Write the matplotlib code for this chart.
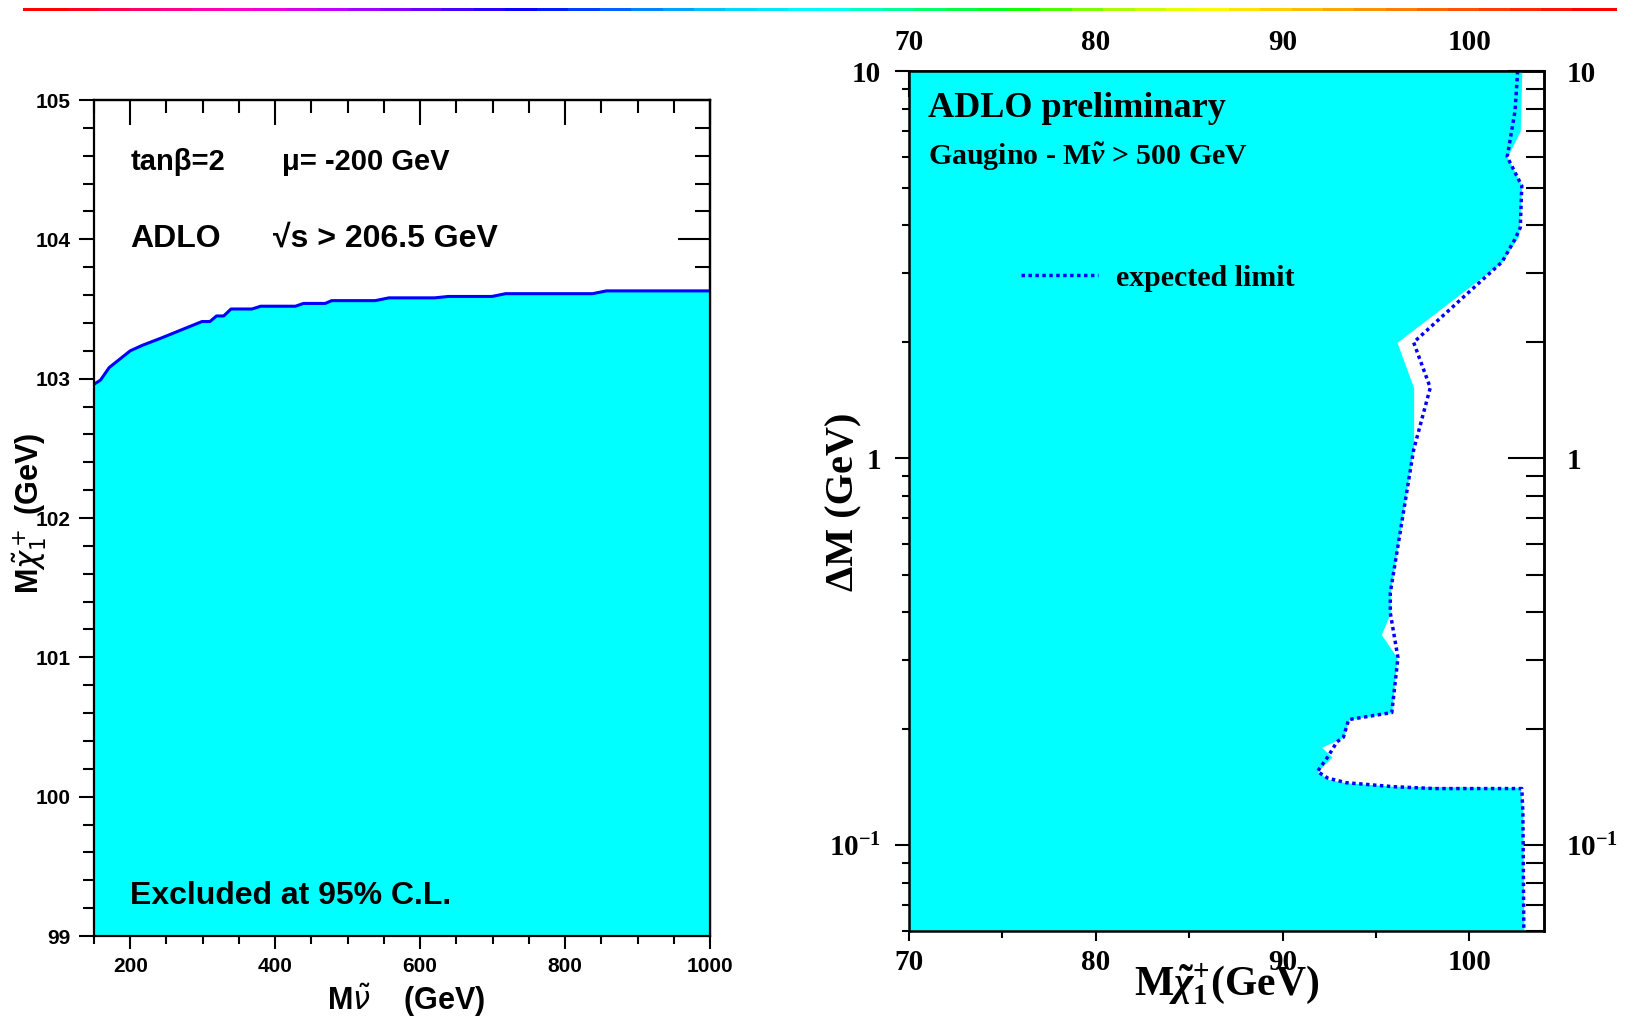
import numpy as np
import matplotlib
matplotlib.use("Agg")
import matplotlib.pyplot as plt
from matplotlib.colors import LinearSegmentedColormap
from matplotlib.lines import Line2D
from matplotlib.ticker import MultipleLocator, LogLocator, NullFormatter

# ------------------------------------------------------------
# Data : left panel, chargino mass limit vs sneutrino mass
# ------------------------------------------------------------
mnu = [150, 159, 171, 200, 217, 242, 280, 299, 310, 319, 329, 339, 368, 380,
       428, 439, 469, 478, 538, 557, 620, 639, 699, 718, 838, 857, 1000]
mchi_lim = [102.96, 102.99, 103.08, 103.20, 103.24, 103.29, 103.37, 103.41,
            103.41, 103.45, 103.45, 103.50, 103.50, 103.52, 103.52, 103.54,
            103.54, 103.56, 103.56, 103.58, 103.58, 103.59, 103.59, 103.61,
            103.61, 103.63, 103.63]
mnu_ticks = [200, 400, 600, 800, 1000]
mchi_ticks = [99, 100, 101, 102, 103, 104, 105]

# ------------------------------------------------------------
# Data : right panel, excluded region in (M chi, Delta M)
# ------------------------------------------------------------
obs_dm = [10.0, 7.0, 6.0, 5.05, 3.75, 3.21, 1.99, 1.52, 1.07, 0.449, 0.398,
          0.350, 0.305, 0.220, 0.211, 0.190, 0.179, 0.169, 0.155, 0.148,
          0.145, 0.142, 0.141, 0.121, 0.06]
obs_mchi = [102.81, 102.73, 102.03, 102.81, 102.65, 101.75, 96.13, 97.02,
            97.02, 95.77, 95.77, 95.29, 96.13, 95.85, 93.54, 93.26, 92.09,
            92.65, 91.87, 92.42, 93.40, 95.91, 102.73, 102.87, 102.92]

exp_dm = [10.0, 7.89, 6.0, 5.05, 3.94, 3.68, 3.21, 1.99, 1.52, 1.05, 0.449,
          0.398, 0.305, 0.220, 0.211, 0.190, 0.185, 0.169, 0.155, 0.149,
          0.145, 0.1416, 0.140, 0.140, 0.121, 0.06]
exp_mchi = [102.59, 102.45, 102.03, 102.81, 102.73, 102.45, 101.75, 97.02,
            97.91, 97.02, 95.77, 95.77, 96.18, 95.85, 93.54, 93.26, 92.92,
            92.42, 91.87, 92.42, 93.40, 95.91, 98.13, 102.81, 102.87, 102.92]
chi_ticks = [70, 80, 90, 100]
dm_ticks = [0.1, 1, 10]
dm_labels = [r"$10^{-1}$", "1", "10"]

# ------------------------------------------------------------
# Style
# ------------------------------------------------------------
SANS = ["Liberation Sans", "DejaVu Sans"]
SERIF = ["Liberation Serif", "DejaVu Serif"]
CYAN = "#00ffff"
BLUE = "#0000ff"

plt.rcParams["mathtext.fontset"] = "custom"
plt.rcParams["mathtext.rm"] = "Liberation Serif:bold"
plt.rcParams["mathtext.it"] = "Liberation Serif:italic:bold"
plt.rcParams["mathtext.bf"] = "Liberation Serif:bold"

W, H = 1638, 1019
fig = plt.figure(figsize=(W / 100, H / 100), dpi=100)

# rainbow line along the top of the page
rainbow = LinearSegmentedColormap.from_list(
    "rootpal",
    ["#ff0000", "#ff0070", "#ff00d0", "#c000ff", "#6000ff", "#0000ff",
     "#0070ff", "#00d0ff", "#00ffff", "#00ff80", "#00ff00", "#a0ff00",
     "#ffff00", "#ffc000", "#ff8000", "#ff4000", "#ff0000"], N=50)
bar = fig.add_axes([23 / W, 1 - 11 / H, 1594 / W, 3 / H])
bar.imshow(np.arange(50)[None, :], aspect="auto", cmap=rainbow)
bar.axis("off")

# ------------------------------------------------------------
# Left panel
# ------------------------------------------------------------
ax1 = fig.add_axes([94 / W, 83 / H, 616 / W, 836 / H])

ax1.fill_between(mnu, 99, mchi_lim, color=CYAN, lw=0)
ax1.plot(mnu, mchi_lim, color=BLUE, lw=2.2)

ax1.set_xlim(150, 1000)
ax1.set_ylim(99, 105)

ax1.set_xticks(mnu_ticks, labels=[str(t) for t in mnu_ticks],
               fontfamily=SANS, fontweight="bold", fontsize=15)
ax1.set_yticks(mchi_ticks, labels=[str(t) for t in mchi_ticks],
               fontfamily=SANS, fontweight="bold", fontsize=15)
ax1.xaxis.set_minor_locator(MultipleLocator(50))
ax1.yaxis.set_minor_locator(MultipleLocator(0.2))
ax1.tick_params(which="both", direction="out", width=1.5, top=False, right=False)
ax1.tick_params(axis="x", which="major", length=9, pad=6)
ax1.tick_params(axis="x", which="minor", length=6)
ax1.tick_params(axis="y", which="major", length=11, pad=6)
ax1.tick_params(axis="y", which="minor", length=8)

top1 = ax1.secondary_xaxis("top")
top1.set_xticks(mnu_ticks)
top1.xaxis.set_minor_locator(MultipleLocator(50))
top1.xaxis.set_major_formatter(NullFormatter())
top1.tick_params(which="both", direction="in", width=1.5)
top1.tick_params(which="major", length=18)
top1.tick_params(which="minor", length=9)

right1 = ax1.secondary_yaxis("right")
right1.set_yticks(mchi_ticks)
right1.yaxis.set_minor_locator(MultipleLocator(0.2))
right1.yaxis.set_major_formatter(NullFormatter())
right1.tick_params(which="both", direction="in", width=1.5)
right1.tick_params(which="major", length=23)
right1.tick_params(which="minor", length=11)

for sp in ax1.spines.values():
    sp.set_linewidth(1.6)
top1.spines["top"].set_linewidth(1.6)
right1.spines["right"].set_linewidth(1.6)

ax1.text(0.060, 0.926, "tan\u03b2=2", transform=ax1.transAxes,
         fontfamily=SANS, fontweight="bold", fontsize=21, va="center")
ax1.text(0.305, 0.926, "\u03bc= -200 GeV", transform=ax1.transAxes,
         fontfamily=SANS, fontweight="bold", fontsize=21, va="center")
ax1.text(0.058, 0.834, "ADLO", transform=ax1.transAxes,
         fontfamily=SANS, fontweight="bold", fontsize=23, va="center")
ax1.text(0.290, 0.834, "\u221as > 206.5 GeV", transform=ax1.transAxes,
         fontfamily=SANS, fontweight="bold", fontsize=23, va="center")
ax1.text(0.058, 0.048, "Excluded at 95% C.L.", transform=ax1.transAxes,
         fontfamily=SANS, fontweight="bold", fontsize=23, va="center")

ax1.set_xlabel(r"M$\tilde{\nu}$    (GeV)", fontfamily=SANS, fontweight="bold",
               fontsize=22, math_fontfamily="dejavusans")
ax1.xaxis.label.set(va="center")
ax1.xaxis.set_label_coords(0.506, -0.077)
ax1.set_ylabel(r"M$\tilde{\chi}_1^+$ (GeV)", fontfamily=SANS, fontweight="bold",
               fontsize=22, math_fontfamily="dejavusans")
ax1.yaxis.label.set(va="center")
ax1.yaxis.set_label_coords(-0.105, 0.505)

# ------------------------------------------------------------
# Right panel
# ------------------------------------------------------------
ax2 = fig.add_axes([909 / W, 88 / H, 635 / W, 860 / H])
ax2.set_yscale("log")

ax2.fill_betweenx(obs_dm, 70, obs_mchi, color=CYAN, lw=0)
ax2.plot(exp_mchi, exp_dm, color=BLUE, lw=2.5, ls=(0, (1, 1)))

ax2.set_xlim(70, 104)
ax2.set_ylim(0.06, 10)

ax2.set_xticks(chi_ticks, labels=[str(t) for t in chi_ticks],
               fontfamily=SERIF, fontweight="bold", fontsize=21)
ax2.set_yticks(dm_ticks, labels=dm_labels,
               fontfamily=SERIF, fontweight="bold", fontsize=21)
ax2.xaxis.set_minor_locator(MultipleLocator(5))
ax2.yaxis.set_minor_locator(LogLocator(subs=np.arange(2, 10)))
ax2.yaxis.set_minor_formatter(NullFormatter())
ax2.tick_params(which="both", direction="out", width=1.5, top=False, right=False)
ax2.tick_params(axis="x", which="major", length=7, pad=6)
ax2.tick_params(axis="x", which="minor", length=5)
ax2.tick_params(axis="y", which="major", length=10, pad=10)
ax2.tick_params(axis="y", which="minor", length=5)

top2 = ax2.secondary_xaxis("top")
top2.set_xticks(chi_ticks, labels=[str(t) for t in chi_ticks],
                fontfamily=SERIF, fontweight="bold", fontsize=21)
top2.xaxis.set_minor_locator(MultipleLocator(5))
top2.tick_params(which="both", direction="in", width=1.5)
top2.tick_params(which="major", length=19, pad=11)
top2.tick_params(which="minor", length=10)

right2 = ax2.secondary_yaxis("right")
right2.set_yticks(dm_ticks, labels=dm_labels,
                  fontfamily=SERIF, fontweight="bold", fontsize=21)
right2.yaxis.set_minor_locator(LogLocator(subs=np.arange(2, 10)))
right2.yaxis.set_minor_formatter(NullFormatter())
right2.tick_params(which="both", direction="in", width=1.5)
right2.tick_params(which="major", length=26, pad=16)
right2.tick_params(which="minor", length=13)

for sp in ax2.spines.values():
    sp.set_linewidth(1.8)
top2.spines["top"].set_linewidth(1.8)
right2.spines["right"].set_linewidth(1.8)

ax2.text(0.030, 0.956, "ADLO preliminary", transform=ax2.transAxes,
         fontfamily=SERIF, fontweight="bold", fontsize=26, va="center")
ax2.text(0.030, 0.900, r"Gaugino - M$\tilde{\nu}$ > 500 GeV",
         transform=ax2.transAxes, fontfamily=SERIF, fontweight="bold",
         fontsize=21.5, va="center")

handle = Line2D([], [], color=BLUE, lw=2.5, ls=(0, (1, 1)),
                label="expected limit")
ax2.legend(handles=[handle], loc="center left", bbox_to_anchor=(0.176, 0.759),
           frameon=False, borderpad=0, borderaxespad=0, handlelength=2.6,
           handletextpad=0.6, prop={"family": SERIF, "weight": "bold",
                                    "size": 21.5})

ax2.set_xlabel(r"M$\tilde{\chi}_1^{+}$(GeV)", fontfamily=SERIF,
               fontweight="bold", fontsize=30)
ax2.xaxis.label.set(va="center")
ax2.xaxis.set_label_coords(0.501, -0.062)
ax2.set_ylabel("\u0394M (GeV)", fontfamily=SERIF, fontweight="bold",
               fontsize=29)
ax2.yaxis.label.set(va="center")
ax2.yaxis.set_label_coords(-0.102, 0.499)

fig.savefig("out.png", dpi=100)
